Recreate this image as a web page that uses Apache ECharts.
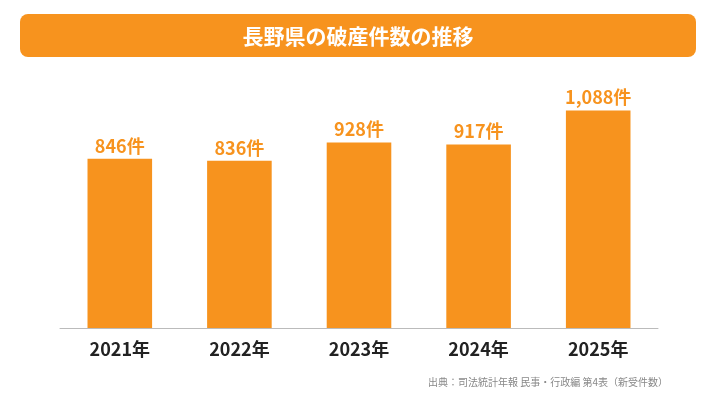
<!DOCTYPE html>
<html><head><meta charset="utf-8">
<script src="https://cdn.jsdelivr.net/npm/echarts@6/dist/echarts.min.js"></script>
<style>html,body{margin:0;padding:0;background:#fff}#c{width:716px;height:403px}</style>
</head><body><div id="c"></div>
<script>
const categories = ['2021年','2022年','2023年','2024年','2025年'];
const values = [846, 836, 928, 917, 1088];
const titleText = '長野県の破産件数の推移';
const sourceText = '出典：司法統計年報 民事・行政編 第4表（新受件数）';
const font = '"Noto Sans CJK JP", sans-serif';
const chart = echarts.init(document.getElementById('c'));
chart.setOption({
  animation: false,
  graphic: [
    {type:'rect', shape:{x:20,y:14,width:676,height:43,r:8}, style:{fill:'#f7931e'}},
    {type:'text', x:358, y:36, style:{text:titleText, fill:'#fff', font:'bold 21px '+font, textAlign:'center', textVerticalAlign:'middle'}},
    {type:'text', x:668, y:382, style:{text:sourceText, fill:'#888', font:'10px '+font, textAlign:'right', textVerticalAlign:'middle'}}
  ],
  grid: {left:60, right:58, top:88, bottom:75},
  xAxis: {type:'category', data:categories,
    axisLine:{lineStyle:{color:'#bbb'}}, axisTick:{show:false},
    axisLabel:{color:'#222', fontSize:18, fontWeight:'bold', fontFamily:font, margin:12}},
  yAxis: {type:'value', min:0, max:1200, show:false, splitLine:{show:false}},
  series: [{type:'bar', data:values, barWidth:'54%', itemStyle:{color:'#f7931e'},
    label:{show:true, position:'top', color:'#f7931e', fontSize:18, fontWeight:'bold', fontFamily:font, distance:4,
      formatter: p => p.value.toLocaleString('en-US') + '件'}}]
});
</script></body></html>
